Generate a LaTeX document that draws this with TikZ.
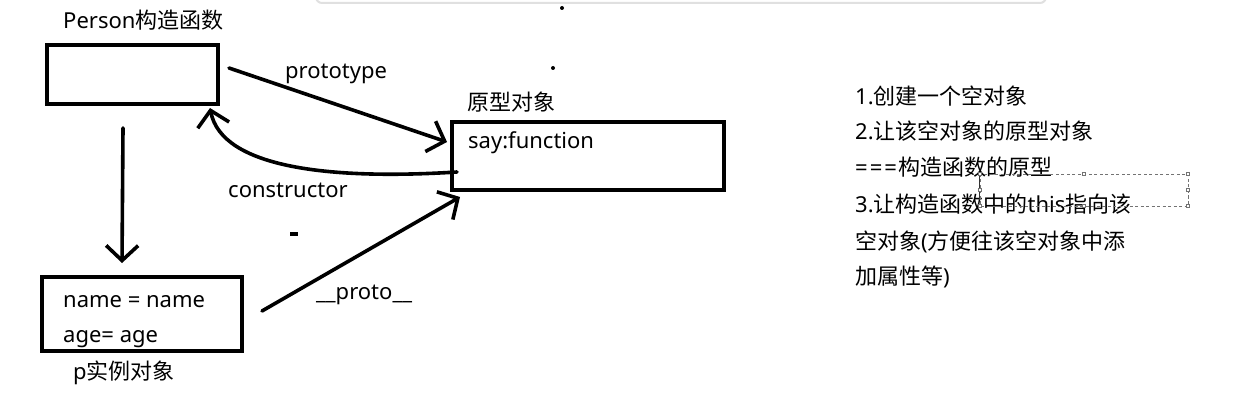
\documentclass[tikz,border=0pt]{standalone}
\usepackage{fontspec}
\setmainfont{Noto Sans}
\newfontfamily\cjk{Noto Sans CJK SC}
\usetikzlibrary{arrows.meta}
\begin{document}
\begin{tikzpicture}[x=1pt,y=-1pt,
  box/.style={draw, line width=4pt, inner sep=0pt},
  lbl/.style={inner sep=0pt, anchor=base west, font=\fontsize{22}{26}\selectfont},
  arr/.style={line width=3.6pt, line cap=round, -{Straight Barb[length=15pt,width=32pt,line width=3.6pt]}},
  handle/.style={draw=black!55, fill=white, line width=0.6pt, minimum size=3.5pt, inner sep=0pt},
]
\useasboundingbox (0,0) rectangle (1236,414);
% top window edge
\draw[black!12, line width=2pt, fill=white, rounded corners=6pt] (316,-20) rectangle (1046,3);
% boxes
\node[box, minimum width=171pt, minimum height=59pt] (person) at (132.5,74.5) {};
\node[box, minimum width=272pt, minimum height=68pt] (pobj) at (588,156) {};
\node[box, minimum width=200pt, minimum height=74pt] (inst) at (142,314) {};
% labels
\node[lbl] (lperson) at (63,29) {Person{\cjk 构造函数}};
\node[lbl] (lproto) at (285,79) {prototype};
\node[lbl] (lpobj) at (467,111) {\cjk 原型对象};
\node[lbl] (lsay) at (468,149) {say:function};
\node[lbl] (lcons) at (228,197) {constructor};
\node[lbl] (lname) at (63,307) {name = name};
\node[lbl] (lage) at (63,342) {age= age};
\node[lbl] (linst) at (73,379) {p{\cjk 实例对象}};
\node[lbl] (l__) at (316,299) {\_\_proto\_\_};
% right text
\node[lbl] (t1) at (855,105) {1.{\cjk 创建一个空对象}};
\node[lbl] (t2) at (855,140) {2.{\cjk 让该空对象的原型对象}};
\node[lbl] (t3) at (855,176) {=\kern2pt=\kern2pt=\kern2pt{\cjk 构造函数的原型}};
\node[lbl] (t4) at (855,212) {3.{\cjk 让构造函数中的}this{\cjk 指向该}};
\node[lbl] (t5) at (855,249) {{\cjk 空对象}({\cjk 方便往该空对象中添}};
\node[lbl] (t6) at (855,284) {{\cjk 加属性等})};
% connector end points
\coordinate (a1) at (229,68);
\coordinate (a1e) at (447,142);
\coordinate (c1) at (457,172);
\coordinate (c1e) at (210,108);
\coordinate (d1) at (123,128);
\coordinate (d1e) at (122,263);
\coordinate (p1) at (262,311);
\coordinate (p1e) at (460,197);
% connectors
\draw[arr] (a1) -- (a1e);
\draw[arr] (c1) .. controls (330,180) and (222,168) .. (c1e);
\draw[arr] (d1) -- (d1e);
\draw[arr] (p1) -- (p1e);
% stray marks
\fill (562,8) circle (2pt);
\fill (553,68) circle (2pt);
\fill (290,232) rectangle (298,236);
% selection frame
\draw[black!55, line width=0.7pt, dash pattern=on 3pt off 2.5pt] (980,174) rectangle (1188,206);
\draw[black!80, line width=1pt] (979,176) -- (979,200);
\foreach \p [count=\i] in {(980,174),(1084,174),(1188,174),(1188,190),(1188,206),(1084,206),(980,206),(980,190)}
  \node[handle] (h\i) at \p {};
\end{tikzpicture}
\end{document}
